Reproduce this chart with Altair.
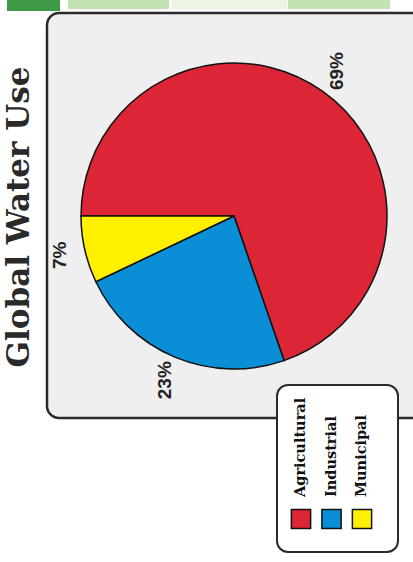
import math
import altair as alt
import pandas as pd

# ---- data ----
categories = ["Agricultural", "Industrial", "Municipal"]
shares = [69, 23, 7]
share_labels = ["69%", "23%", "7%"]
colors = ["#dc2535", "#0a8ed6", "#fff000"]
title_text = ["Global Water Use"]

pie_df = pd.DataFrame({"category": categories, "share": shares, "label": share_labels})
legend_df = pd.DataFrame({"category": categories})
one = pd.DataFrame({"t": title_text})

W, H = 413, 562
CX, CY = 234, 216

color_scale = alt.Scale(domain=categories, range=colors)
theta_scale = alt.Scale(range=[-math.pi / 2, 3 * math.pi / 2])


def deco_rect(x, x2, y, y2, fill, stroke=None, sw=0, radius=0):
    kw = dict(fill=fill, cornerRadius=radius)
    if stroke:
        kw.update(stroke=stroke, strokeWidth=sw)
    else:
        kw.update(strokeWidth=0)
    return alt.Chart(one).mark_rect(**kw).encode(
        x=alt.value(x), x2=alt.value(x2), y=alt.value(y), y2=alt.value(y2)
    )


# header stripes (page decoration)
stripes = (
    deco_rect(7, 60, -5, 11, "#3f9a47")
    + deco_rect(68, 169, -5, 9, "#c2e1b2")
    + deco_rect(172, 287, -5, 9, "#ecf5e4")
    + deco_rect(288, 390, -5, 9, "#c4e2b4")
)

frame = deco_rect(47, 450, 13, 418, "#efefef", "#2a2a2a", 2.5, 12)

pie = alt.Chart(pie_df).mark_arc(radius=153, stroke="#111", strokeWidth=1.5).encode(
    theta=alt.Theta("share:Q", stack=True, scale=theta_scale),
    color=alt.Color("category:N", scale=color_scale, legend=None),
    order=alt.Order("category:N", sort="ascending"),
    x=alt.value(CX),
    y=alt.value(CY),
)

pct = alt.Chart(pie_df).mark_text(
    radius=178, angle=270, font="Liberation Sans", fontSize=19, fontWeight="bold",
    color="#222", align="center", baseline="middle",
).encode(
    theta=alt.Theta("share:Q", stack=True, scale=theta_scale),
    order=alt.Order("category:N", sort="ascending"),
    text="label:N",
    x=alt.value(CX),
    y=alt.value(CY),
)

title = alt.Chart(one).mark_text(
    angle=270, font="DejaVu Serif", fontSize=31, fontWeight="bold", color="#2a2a2a",
    align="center", baseline="middle",
).encode(text="t:N", x=alt.value(20), y=alt.value(217))

legend_box = deco_rect(277, 398, 385, 552, "#ffffff", "#2a2a2a", 2, 11)

leg_x = alt.X(
    "category:N",
    scale=alt.Scale(type="point", domain=categories, range=[301, 362], padding=0),
    axis=None,
)

swatches = alt.Chart(legend_df).mark_square(
    size=370, opacity=1, stroke="#111", strokeWidth=1.5
).encode(
    x=leg_x,
    y=alt.value(519),
    color=alt.Color("category:N", scale=color_scale, legend=None),
)

leg_text = alt.Chart(legend_df).mark_text(
    angle=270, font="DejaVu Serif", fontSize=14.5, fontWeight="bold",
    color="#111", align="left", baseline="middle",
).encode(x=leg_x, y=alt.value(497), text="category:N")

chart = (
    alt.layer(stripes, frame, pie, pct, title, legend_box, swatches, leg_text)
    .properties(width=W, height=H, autosize="none", padding=0, background="#ffffff")
    .configure_view(strokeWidth=0)
)

chart.save("out.html", embed_options={"renderer": "svg", "actions": False})
